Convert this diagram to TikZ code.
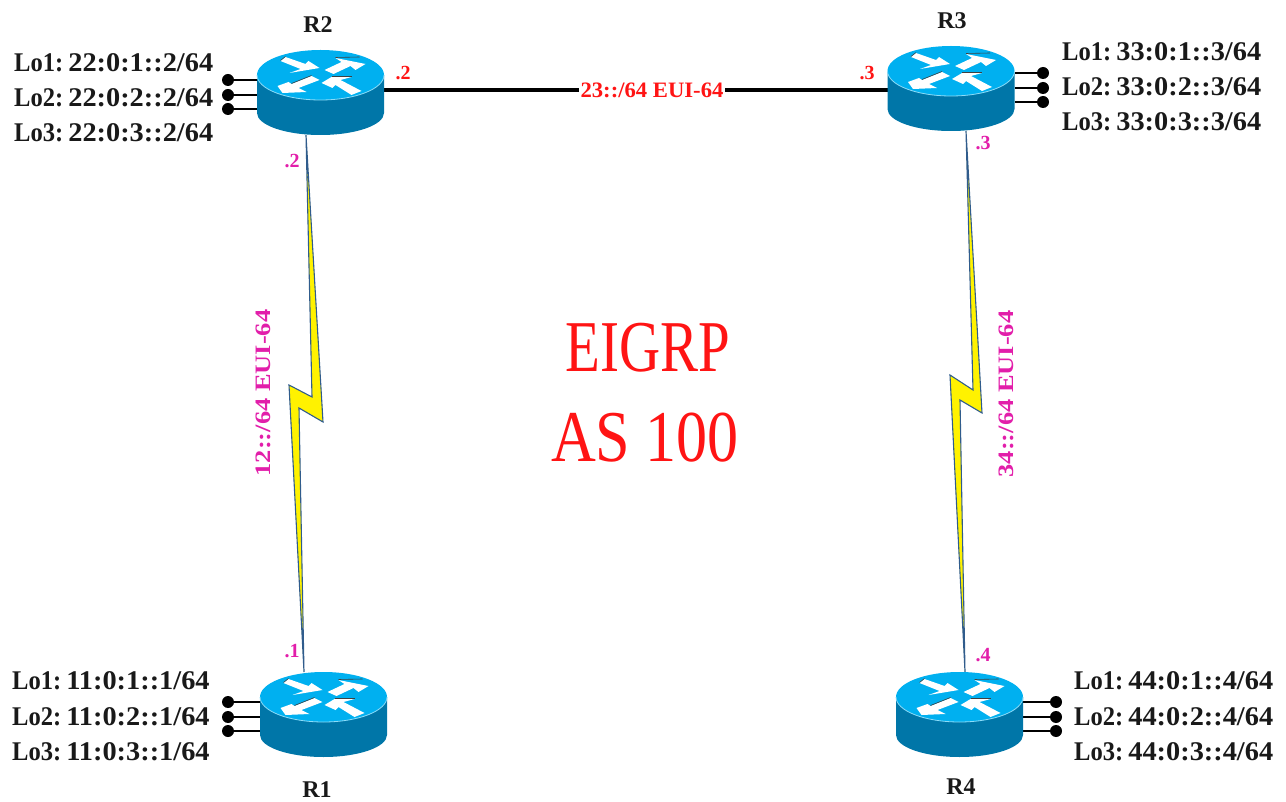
\documentclass[tikz,border=0pt]{standalone}
\usepackage{fontspec}
\usepackage{graphicx}
\setmainfont{Liberation Serif}
\definecolor{rtop}{RGB}{0,176,240}
\definecolor{rbody}{RGB}{0,118,168}
\definecolor{bolted}{RGB}{48,92,140}
\definecolor{mag}{RGB}{226,30,170}
\definecolor{redt}{RGB}{255,20,20}
\definecolor{txt}{RGB}{25,25,25}
\tikzset{
  routerbox/.style={minimum width=127pt,minimum height=85pt,inner sep=0pt,outer sep=0pt},
  loop/.style={font=\bfseries\fontsize{27}{27}\selectfont,text=txt,anchor=base west,inner sep=0pt},
  rname/.style={font=\bfseries\fontsize{24}{24}\selectfont,text=txt,anchor=base,inner sep=0pt},
  redip/.style={font=\bfseries\fontsize{20}{20}\selectfont,text=redt,anchor=base,inner sep=0pt},
  magip/.style={font=\bfseries\fontsize{20}{20}\selectfont,text=mag,anchor=base,inner sep=0pt},
  dotend/.style={circle,fill=black,minimum size=12pt,inner sep=0pt},
  stub/.style={draw=black,line width=1.4pt},
  bolt/.style={draw=bolted,fill=yellow,line width=1.1pt,line join=miter},
  bigtext/.style={font=\fontsize{73}{73}\selectfont,text=redt,inner sep=0pt,anchor=base},
  linktext/.style={font=\bfseries\fontsize{22}{22}\selectfont,inner sep=0pt},
  arrowedge/.style={draw=black!75,line width=0.6pt},
}
\newcommand{\lolabel}[2]{\scalebox{0.91}[1]{Lo#1:}\hspace{5pt}\scalebox{1.05}[1]{#2}}
% #1 x, #2 y (centre of the router)
\newcommand{\routerart}[2]{%
  \begin{scope}[shift={(#1,#2)}]
    \fill[rbody] (-63.5,-17.5) -- (-63.5,20.5) arc[start angle=180,end angle=0,x radius=63.5,y radius=22] -- (63.5,-17.5) -- cycle;
    \fill[rtop] (0,-17.5) ellipse[x radius=63.5,y radius=25];
    \draw[rtop!45!white,line width=0.8pt] (-63.5,-17.5) arc[start angle=180,end angle=0,x radius=63.5,y radius=25];
    \begin{scope}[shift={(0,-17.5)}]
      \fill[white] (-40,-14) -- (-35,-18) -- (-15,-11) -- (-12,-14) -- (-1,-7) -- (-31,-2) -- (-20,-6) -- cycle;
      \fill[white] (4,-5) -- (21,-13) -- (15,-17) -- (45,-11) -- (35,-5) -- (30,-9) -- (13,-1) -- cycle;
      \fill[white] (-9,1) -- (-1,5) -- (-22,13) -- (-14,17) -- (-38,18) -- (-43,11) -- (-32,7) -- (-29,9) -- cycle;
      \fill[white] (1,8) -- (11,2) -- (31,2) -- (20,5) -- (41,16) -- (31,20) -- (15,10) -- (12,13) -- cycle;
      \draw[arrowedge] (15,-17.5) -- (39,-18);
      \draw[arrowedge] (11,1.5) -- (31,1.5);
      \draw[arrowedge] (-9,0.5) -- (-29,8.5);
      \draw[arrowedge] (-40,-14.5) -- (-35,-18.5);
    \end{scope}
  \end{scope}}
\begin{document}
\begin{tikzpicture}[x=1pt,y=-1pt]
\useasboundingbox (0,0) rectangle (1286,802);
\node[routerbox] (R2) at (320.5,92.5) {};
\node[routerbox] (R3) at (951,88.5) {};
\node[routerbox] (R1) at (323.5,714.5) {};
\node[routerbox] (R4) at (959.5,714.5) {};
% stubs
\foreach \n/\yy in {a/80,b/95,c/109}{
  \node[dotend] (d2\n) at (228,\yy) {};
  \draw[stub] (d2\n.center) -- (d2\n.center -| R2.west);
}
\foreach \n/\yy in {a/73,b/88,c/102}{
  \node[dotend] (d3\n) at (1043,\yy) {};
  \draw[stub] (d3\n.center) -- (d3\n.center -| R3.east);
}
\foreach \n/\yy in {a/702,b/717,c/731}{
  \node[dotend] (d1\n) at (228,\yy) {};
  \draw[stub] (d1\n.center) -- (d1\n.center -| R1.west);
  \node[dotend] (d4\n) at (1056,\yy) {};
  \draw[stub] (d4\n.center) -- (d4\n.center -| R4.east);
}
% thick link
\coordinate (linky) at (650,90);
\draw[black,line width=4pt] (R2.east |- linky) -- (R3.west |- linky);
% bolts
\coordinate (b2) at (306,135);
\coordinate (b1) at (304,672);
\coordinate (b3) at (966,131);
\coordinate (b4) at (965,672);
\draw[bolt] (b2) -- (323,422) -- (299,408) -- (b1) -- (289,385) -- (312,397) -- cycle;
\draw[bolt] (b3) -- (982,413) -- (960,400) -- (b4) -- (950,375) -- (973,390) -- cycle;
% routers
\routerart{320.5}{92.5}
\routerart{951}{88.5}
\routerart{323.5}{714.5}
\routerart{959.5}{714.5}
% router names
\node[rname] (nR2) at (318,33) {R2};
\node[rname] (nR3) at (952,29) {R3};
\node[rname] (nR1) at (317,797) {R1};
\node[rname] (nR4) at (961,794) {R4};
% loopbacks
\node[loop] (l21) at (14,72) {\lolabel{1}{22:0:1::2/64}};
\node[loop] (l22) at (14,107) {\lolabel{2}{22:0:2::2/64}};
\node[loop] (l23) at (14,142) {\lolabel{3}{22:0:3::2/64}};
\node[loop] (l31) at (1062,61) {\lolabel{1}{33:0:1::3/64}};
\node[loop] (l32) at (1062,96) {\lolabel{2}{33:0:2::3/64}};
\node[loop] (l33) at (1062,131) {\lolabel{3}{33:0:3::3/64}};
\node[loop] (l11) at (12,689) {\lolabel{1}{11:0:1::1/64}};
\node[loop] (l12) at (12,725) {\lolabel{2}{11:0:2::1/64}};
\node[loop] (l13) at (12,760) {\lolabel{3}{11:0:3::1/64}};
\node[loop] (l41) at (1074,689) {\lolabel{1}{44:0:1::4/64}};
\node[loop] (l42) at (1074,725) {\lolabel{2}{44:0:2::4/64}};
\node[loop] (l43) at (1074,760) {\lolabel{3}{44:0:3::4/64}};
% interface labels
\node[redip] (ip2r) at (403,80) {.2};
\node[redip] (ip3r) at (867,80) {.3};
\node[magip] (ip2m) at (292,168) {.2};
\node[magip] (ip3m) at (983,150) {.3};
\node[magip] (ip1m) at (292,657) {.1};
\node[magip] (ip4m) at (983,661) {.4};
% link labels
\node[linktext,fill=white,inner xsep=1.5pt,inner ysep=3pt,text=redt] (lnk23) at (652,90) {\scalebox{1.03}[1]{23::/64 EUI-64}};
\node[linktext,rotate=90,text=mag] (lnk12) at (263,393) {\scalebox{1.2}[1]{12::/64 EUI-64}};
\node[linktext,rotate=90,text=mag] (lnk34) at (1006,394) {\scalebox{1.2}[1]{34::/64 EUI-64}};
% centre text
\node[bigtext] (eigrp) at (648,372) {\scalebox{0.78}[1]{EIGRP}};
\node[bigtext] (as) at (645,461) {\scalebox{0.85}[1]{AS 100}};
\end{tikzpicture}
\end{document}
